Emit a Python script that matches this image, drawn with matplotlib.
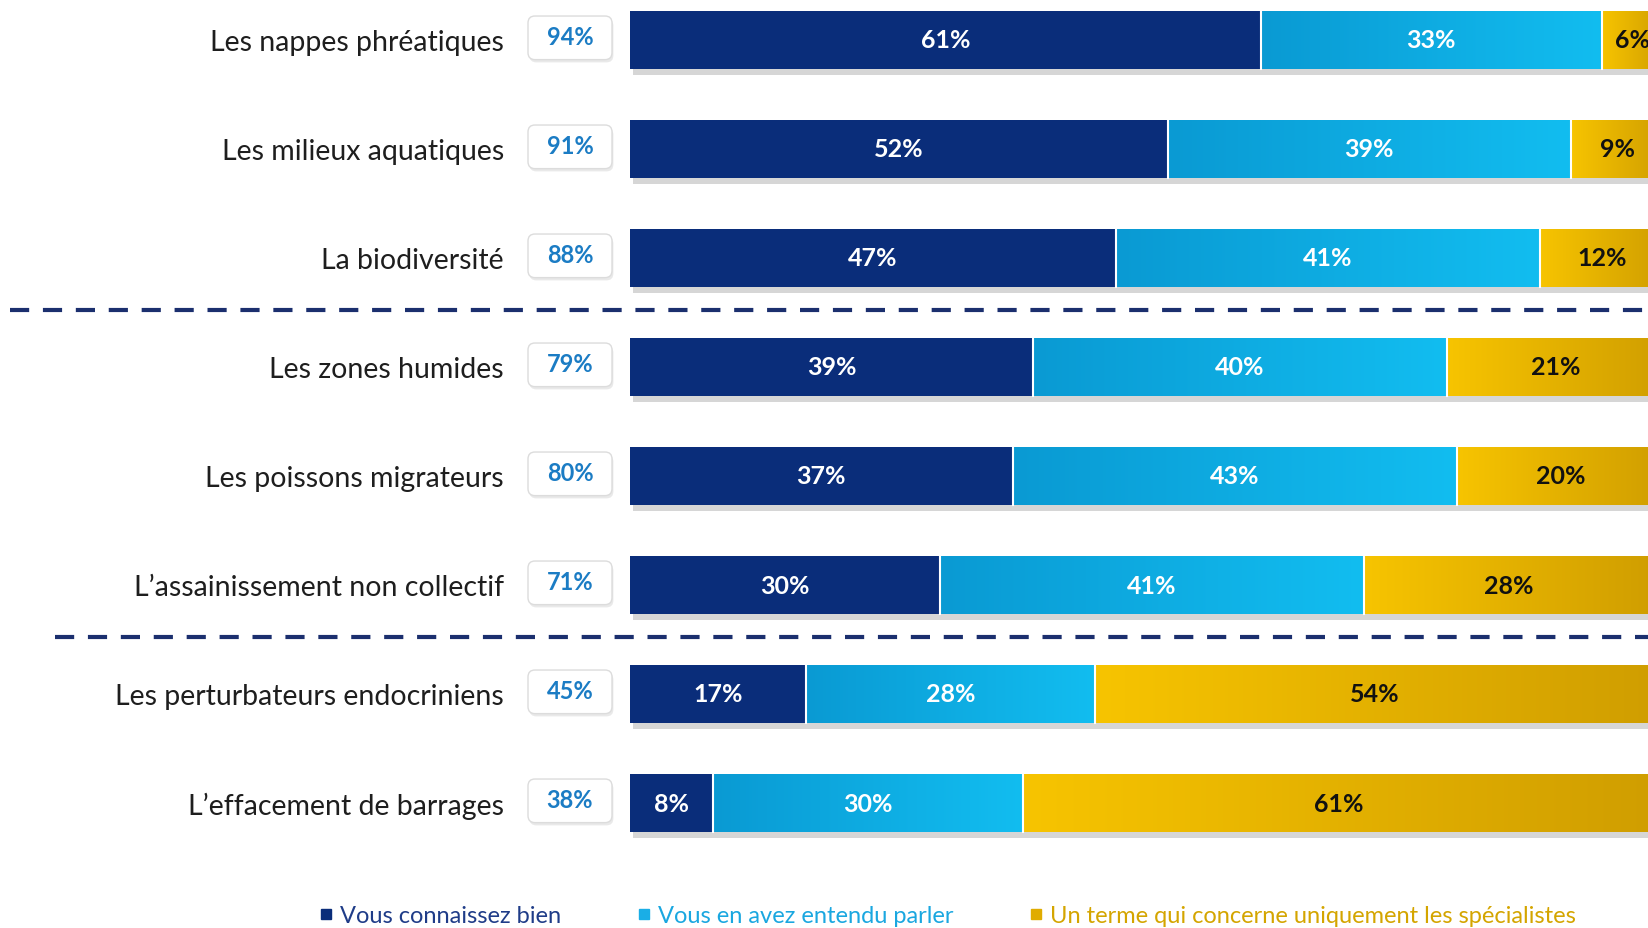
import numpy as np
import matplotlib
matplotlib.use("Agg")
import matplotlib.pyplot as plt
from matplotlib.patches import FancyBboxPatch
from matplotlib.lines import Line2D
import matplotlib.patheffects as pe

plt.rcParams['font.family'] = ['Lato', 'DejaVu Sans']

# data
items = ["Les nappes phréatiques", "Les milieux aquatiques", "La biodiversité",
         "Les zones humides", "Les poissons migrateurs", "L’assainissement non collectif",
         "Les perturbateurs endocriniens", "L’effacement de barrages"]
known = [61, 52, 47, 39, 37, 30, 17, 8]
heard = [33, 39, 41, 40, 43, 41, 28, 30]
experts = [6, 9, 12, 21, 20, 28, 54, 61]
totals = [94, 91, 88, 79, 80, 71, 45, 38]
series_names = ["Vous connaissez bien", "Vous en avez entendu parler",
                "Un terme qui concerne uniquement les spécialistes"]

navy = "#0a2d7a"
blue_l, blue_r = "#0a9ad3", "#12bdf0"
gold_l, gold_r = "#f7c400", "#d09e00"
box_blue = "#1b7cc4"

W, H = 1648, 929
DPI = 100
fig = plt.figure(figsize=(W / DPI, H / DPI), dpi=DPI)
x0 = 630
ax = fig.add_axes([x0 / W, 0, 1 - x0 / W, 1])
ax.axis("off")

y = np.arange(len(items))
bh = 0.535
known = np.array(known)
heard = np.array(heard)
experts = np.array(experts)

def gradient_fill(bars, c_left, c_right):
    cmap = matplotlib.colors.LinearSegmentedColormap.from_list("g", [c_left, c_right])
    grad = np.linspace(0, 1, 256).reshape(1, -1)
    for b in bars:
        bx, by = b.get_x(), b.get_y()
        im = ax.imshow(grad, cmap=cmap, aspect="auto", interpolation="bilinear",
                       extent=[bx, bx + b.get_width(), by + b.get_height(), by], zorder=3)
        im.set_clip_path(b)

shadow = [pe.SimplePatchShadow(offset=(2, -4), shadow_rgbFace="#8a8a8a", alpha=0.35), pe.Normal()]
b1 = ax.barh(y, known, height=bh, color=navy, zorder=2, path_effects=shadow)
b2 = ax.barh(y, heard, left=known, height=bh, color=blue_r, zorder=2, path_effects=shadow)
b3 = ax.barh(y, experts, left=known + heard, height=bh, color=gold_l, zorder=2, path_effects=shadow)
gradient_fill(b2, blue_l, blue_r)
gradient_fill(b3, gold_l, gold_r)
for bars in (b2, b3):
    for b in bars:
        ax.plot([b.get_x(), b.get_x()], [b.get_y(), b.get_y() + b.get_height()],
                color="white", lw=1.5, zorder=4)

xmax = (W - x0) / 10.34
ax.set_xlim(0, xmax)
ax.set_ylim((H - 41) / 109, -41 / 109)

lab_kw = dict(ha="center", va="center", fontsize=18, fontweight="bold", zorder=5)
for i in range(len(items)):
    ax.text(known[i] / 2, i, f"{known[i]}%", color="white", **lab_kw)
    ax.text(known[i] + heard[i] / 2, i, f"{heard[i]}%", color="white", **lab_kw)
    ax.text(known[i] + heard[i] + experts[i] / 2, i, f"{experts[i]}%", color="#111111", **lab_kw)

# row labels and total boxes
tr = ax.get_yaxis_transform()
aw = W - x0
for i, name in enumerate(items):
    ax.text((504 - x0) / aw, i + 0.02, name, transform=tr, ha="right", va="center",
            fontsize=20.5, color="#1e1e1e", clip_on=False)
    box = FancyBboxPatch(((528 - x0) / aw, i - 0.22), 84 / aw, 0.4,
                         boxstyle="round,pad=0,rounding_size=%f" % (7 / aw),
                         mutation_aspect=aw / 109, transform=tr, clip_on=False,
                         fc="white", ec="#dcdcdc", lw=1.0, zorder=3,
                         path_effects=[pe.SimplePatchShadow(offset=(1, -2), alpha=0.12), pe.Normal()])
    ax.add_patch(box)
    ax.text((570 - x0) / aw, i - 0.03, f"{totals[i]}%", transform=tr, ha="center", va="center",
            fontsize=17, fontweight="bold", color=box_blue, clip_on=False, zorder=4)

# group separators
for yy, xs in ((2.5, 10), (5.5, 55)):
    ax.plot([(xs - x0) / aw, 1], [yy - 0.02, yy - 0.02], transform=tr, clip_on=False,
            color="#1b2f6e", lw=3, dashes=(4.6, 3.3))

handles = [Line2D([], [], marker="s", ls="", color=c, markersize=7)
           for c in (navy, "#1aaee6", "#e0ac00")]
leg = fig.legend(handles, series_names, loc="center", bbox_to_anchor=(0.575, 0.013),
                 ncol=3, frameon=False, fontsize=17, handlelength=0.6, handletextpad=0.3,
                 columnspacing=3.2, labelcolor=["#1f3c88", "#1aa7e0", "#d4a500"])

fig.savefig("out.png", dpi=DPI)
